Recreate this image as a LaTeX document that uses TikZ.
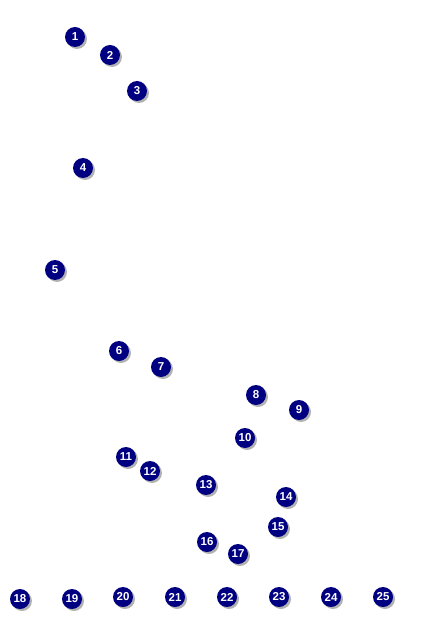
\documentclass[tikz,border=0pt]{standalone}
\usepackage{fontspec}
\setmainfont{Liberation Sans}
\begin{document}
\begin{tikzpicture}[x=1pt,y=-1pt,
  ball/.style={circle,fill={rgb,255:red,0;green,0;blue,128},text=white,
    font=\fontsize{11.5}{12}\selectfont\bfseries,inner sep=0pt,minimum size=20pt,
    preaction={fill=black!30,transform canvas={shift={(2pt,-2pt)}}}}]
\useasboundingbox (0,0) rectangle (424,636);
\foreach \n/\x/\y in {1/75/37,2/110/55,3/137/91,4/83/168,5/55/270,6/119/351,7/161/367,
  8/256/395,9/299/410,10/245/438,11/126/457,12/150/471,13/206/485,14/286/497,
  15/278/527,16/207/542,17/238/554,18/20/599,19/72/599,20/123/597,21/175/597,
  22/227/597,23/279/597,24/331/597,25/383/597}
  \node[ball] (n\n) at (\x,\y) {\n};
\end{tikzpicture}
\end{document}
